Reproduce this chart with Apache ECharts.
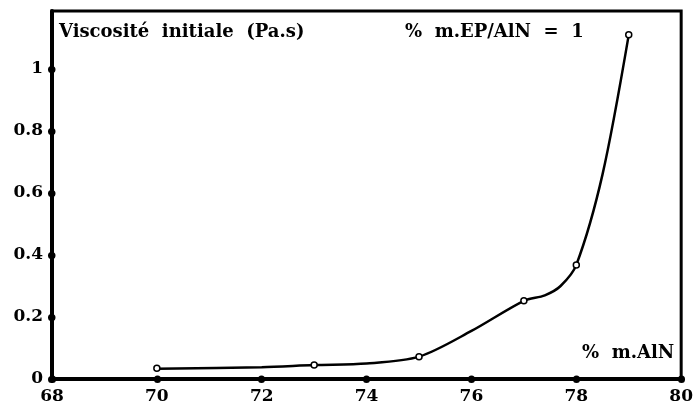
<!DOCTYPE html>
<html><head><meta charset="utf-8">
<script src="https://cdn.jsdelivr.net/npm/echarts@6/dist/echarts.min.js"></script>
<style>html,body{margin:0;padding:0;background:#fff}#c{width:696px;height:412px}</style>
</head><body><div id="c"></div>
<script>
// measured points (markers)
const pointX = [70, 73, 75, 77, 78, 79];
const pointY = [0.035, 0.045, 0.072, 0.252, 0.368, 1.11];
// drawn curve
const curveX = [70, 72, 73, 74, 75, 76, 77, 77.4, 77.7, 78, 78.5, 79];
const curveY = [0.033, 0.038, 0.045, 0.05, 0.072, 0.155, 0.252, 0.27, 0.3, 0.368, 0.66, 1.11];
const xTicks = [68, 70, 72, 74, 76, 78, 80];
const yTicks = [0, 0.2, 0.4, 0.6, 0.8, 1];
const texts = {
  yTitle: 'Viscosité  initiale  (Pa.s)',
  note: '%  m.EP/AlN  =  1',
  xTitle: '%  m.AlN'
};

const font = 'DejaVu Serif';
const chart = echarts.init(document.getElementById('c'), null, {renderer: 'canvas'});
const dot = {show: true, length: 0.5, inside: false, lineStyle: {color: '#000', width: 7, cap: 'round'}};
chart.setOption({
  animation: false,
  backgroundColor: '#fff',
  grid: {left: 52, right: 10, top: 11, bottom: 33, show: true, borderColor: '#000', borderWidth: 3, containLabel: false},
  xAxis: {
    type: 'value', min: 68, max: 80, interval: 2,
    axisLine: {lineStyle: {color: '#000', width: 4}},
    axisTick: Object.assign({customValues: xTicks}, dot),
    splitLine: {show: false},
    axisLabel: {color: '#000', fontFamily: font, fontWeight: 'bold', fontSize: 17, margin: 9,
      customValues: xTicks, formatter: v => String(v)}
  },
  yAxis: {
    type: 'value', min: 0, max: 1.187, interval: 0.2,
    axisLine: {lineStyle: {color: '#000', width: 4}},
    axisTick: Object.assign({customValues: yTicks}, dot),
    splitLine: {show: false},
    axisLabel: {color: '#000', fontFamily: font, fontWeight: 'bold', fontSize: 17, margin: 9,
      customValues: yTicks, formatter: v => String(Math.round(v * 10) / 10)}
  },
  graphic: [
    {type: 'text', left: 59, top: 23, style: {text: texts.yTitle, font: 'bold 18px "DejaVu Serif"', fill: '#000'}},
    {type: 'text', left: 405, top: 23, style: {text: texts.note, font: 'bold 18px "DejaVu Serif"', fill: '#000'}},
    {type: 'text', left: 582, top: 344, style: {text: texts.xTitle, font: 'bold 18px "DejaVu Serif"', fill: '#000'}}
  ],
  series: [
    {type: 'line', data: curveX.map((x, i) => [x, curveY[i]]), smooth: 0.3, showSymbol: false,
     lineStyle: {color: '#000', width: 2.5}},
    {type: 'scatter', data: pointX.map((x, i) => [x, pointY[i]]), symbol: 'circle', symbolSize: 6,
     itemStyle: {color: '#fff', borderColor: '#000', borderWidth: 1.5, opacity: 1}, z: 5}
  ]
});
</script></body></html>
